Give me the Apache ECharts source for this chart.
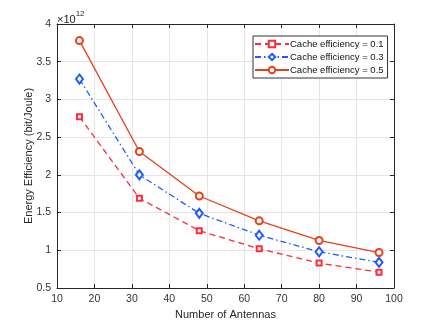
<!DOCTYPE html>
<html><head><meta charset="utf-8">
<script src="https://cdn.jsdelivr.net/npm/echarts@6/dist/echarts.min.js"></script>
<style>html,body{margin:0;padding:0;background:#fff}#c{width:436px;height:325px}</style>
</head><body><div id="c"></div>
<script>
var antennas = [16, 32, 48, 64, 80, 96];
var ee01 = [2.77, 1.69, 1.26, 1.02, 0.83, 0.71];
var ee03 = [3.27, 2.00, 1.49, 1.20, 0.98, 0.84];
var ee05 = [3.78, 2.31, 1.72, 1.39, 1.13, 0.97];
var seriesNames = ['Cache efficiency = 0.1', 'Cache efficiency = 0.3', 'Cache efficiency = 0.5'];
function pairs(ys){ return antennas.map(function(x,i){ return [x, ys[i]]; }); }
var F = 'Liberation Sans, Arial, Helvetica, sans-serif';
var axisCol = '#262626';
var chart = echarts.init(document.getElementById('c'), null, {renderer:'canvas'});
var baseAxis = function(extra){
  return Object.assign({
    axisLine:{show:true, onZero:false, lineStyle:{color:axisCol, width:1}},
    axisTick:{show:true, inside:true, length:4, lineStyle:{color:axisCol}},
    splitLine:{show:false}
  }, extra);
};
chart.setOption({
  animation:false,
  grid:{left:57, right:42, top:24, bottom:37, containLabel:false},
  xAxis:[
    baseAxis({type:'value', min:10, max:100, interval:10, position:'bottom',
      name:'Number of Antennas', nameLocation:'middle', nameGap:21, nameMoveOverlap:false,
      nameTextStyle:{fontFamily:F, fontSize:11, color:axisCol},
      axisLabel:{fontFamily:F, fontSize:10.5, color:'#333', margin:6},
      splitLine:{show:true, lineStyle:{color:'#e5e5e5', width:1}}}),
    baseAxis({type:'value', min:10, max:100, interval:10, position:'top',
      axisLabel:{show:false}})
  ],
  yAxis:[
    baseAxis({type:'value', min:0.5, max:4, interval:0.5, position:'left',
      name:'Energy Efficiency (bit/Joule)', nameLocation:'middle', nameGap:23, nameMoveOverlap:false,
      nameTextStyle:{fontFamily:F, fontSize:11, color:axisCol},
      axisLabel:{fontFamily:F, fontSize:10.5, color:'#333', margin:6},
      splitLine:{show:true, lineStyle:{color:'#e5e5e5', width:1}}}),
    baseAxis({type:'value', min:0.5, max:4, interval:0.5, position:'right',
      axisLabel:{show:false}})
  ],
  legend:{
    orient:'vertical', left:253, top:36, itemWidth:34, itemHeight:8, itemGap:3,
    borderColor:'#333', borderWidth:1, padding:[3,4,3,1], backgroundColor:'#fff',
    textStyle:{fontFamily:F, fontSize:9.5, color:'#111', padding:[0,0,0,-4]},
    data:seriesNames
  },
  graphic:[{type:'text', left:57, top:10, style:{
    text:'{a|×10}{b|12}', fontFamily:F,
    rich:{a:{fontSize:11, fontFamily:F, fill:axisCol, verticalAlign:'bottom', padding:[4,0,0,0]}, b:{fontSize:8, fontFamily:F, fill:axisCol, verticalAlign:'top'}}
  }}],
  series:[
    {name:seriesNames[0], type:'line', data:pairs(ee01), symbol:'emptyRect', symbolSize:5,
      lineStyle:{color:'#ff2a3c', width:1.3, type:[6,4]}, itemStyle:{color:'#ff2a3c', borderWidth:1.2}},
    {name:seriesNames[1], type:'line', data:pairs(ee03), symbol:'emptyDiamond', symbolSize:[7,9],
      lineStyle:{color:'#1f5cff', width:1.3, type:[6,3,1.5,3]}, itemStyle:{color:'#1f5cff', borderWidth:1.2}},
    {name:seriesNames[2], type:'line', data:pairs(ee05), symbol:'emptyCircle', symbolSize:7,
      lineStyle:{color:'#e8401a', width:1.3}, itemStyle:{color:'#e8401a', borderWidth:1.2}}
  ]
});
</script></body></html>
